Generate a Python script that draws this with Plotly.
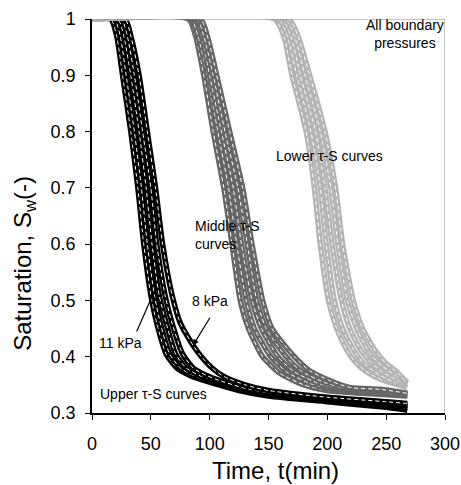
import plotly.graph_objects as go

# ---- data (time in min, saturation S_w) ----
# Upper tau-S curves (black), 11 kPa (left) ... 8 kPa (right)
upper_t = [
    [0, 16, 21, 26, 33, 39, 44, 50, 55, 63, 72, 85, 100, 125, 150, 200, 250, 268],
    [0, 19, 24, 29, 36, 42, 47, 53, 58, 66, 75, 88, 102, 125, 150, 200, 250, 268],
    [0, 22, 27, 33, 40, 46, 51, 57, 63, 71, 80, 92, 105, 125, 150, 200, 250, 268],
    [0, 25, 30, 36, 43, 50, 55, 62, 68, 77, 86, 97, 108, 128, 150, 200, 250, 268],
    [0, 28, 33, 40, 47, 54, 60, 68, 75, 86, 93, 102, 112, 130, 150, 200, 250, 268],
]
upper_s = [
    [1, 1, 0.97, 0.9, 0.8, 0.7, 0.6, 0.51, 0.46, 0.405, 0.38, 0.365, 0.355, 0.34, 0.33, 0.32, 0.31, 0.305],
    [1, 1, 0.97, 0.9, 0.8, 0.7, 0.6, 0.51, 0.46, 0.405, 0.38, 0.365, 0.357, 0.342, 0.332, 0.322, 0.313, 0.308],
    [1, 1, 0.97, 0.9, 0.8, 0.7, 0.6, 0.51, 0.46, 0.405, 0.38, 0.366, 0.358, 0.345, 0.335, 0.325, 0.316, 0.312],
    [1, 1, 0.97, 0.9, 0.8, 0.7, 0.6, 0.51, 0.46, 0.405, 0.38, 0.367, 0.358, 0.345, 0.336, 0.326, 0.318, 0.314],
    [1, 1, 0.97, 0.9, 0.8, 0.7, 0.6, 0.51, 0.46, 0.42, 0.40, 0.38, 0.365, 0.35, 0.34, 0.328, 0.32, 0.317],
]

# Middle tau-S curves (dark grey)
middle_t = [
    [0, 82, 88, 95, 103, 112, 119, 126, 133, 145, 160, 180, 200, 230, 268],
    [0, 84, 90, 98, 107, 116, 123, 131, 138, 152, 166, 186, 205, 235, 268],
    [0, 87, 93, 100, 110, 120, 127, 136, 144, 158, 172, 192, 210, 238, 268],
    [0, 89, 95, 103, 113, 124, 132, 140, 148, 165, 178, 198, 215, 242, 268],
    [0, 92, 98, 106, 117, 128, 136, 145, 153, 172, 185, 205, 220, 245, 268],
]
middle_s = [
    [1, 1, 0.97, 0.9, 0.8, 0.7, 0.6, 0.5, 0.45, 0.4, 0.37, 0.35, 0.34, 0.335, 0.33],
    [1, 1, 0.97, 0.9, 0.8, 0.7, 0.6, 0.5, 0.45, 0.4, 0.372, 0.352, 0.342, 0.337, 0.331],
    [1, 1, 0.97, 0.9, 0.8, 0.7, 0.6, 0.5, 0.45, 0.4, 0.373, 0.353, 0.343, 0.339, 0.332],
    [1, 1, 0.97, 0.9, 0.8, 0.7, 0.6, 0.5, 0.45, 0.4, 0.374, 0.354, 0.344, 0.341, 0.334],
    [1, 1, 0.97, 0.9, 0.8, 0.7, 0.6, 0.5, 0.45, 0.4, 0.375, 0.355, 0.345, 0.342, 0.335],
]

# Lower tau-S curves (light grey)
lower_t = [
    [0, 155, 163, 170, 182, 189, 194, 201, 208, 217, 224, 232, 245, 268],
    [0, 158, 166, 174, 186, 194, 199, 206, 213, 223, 230, 239, 251, 268],
    [0, 161, 169, 177, 190, 198, 204, 212, 219, 229, 237, 245, 256, 268],
    [0, 164, 172, 181, 194, 203, 209, 217, 225, 235, 243, 252, 262, 268],
    [0, 167, 175, 185, 198, 207, 213, 222, 230, 241, 249, 258, 266, 268],
]
lower_s = [
    [1, 1, 0.97, 0.9, 0.8, 0.7, 0.6, 0.5, 0.45, 0.41, 0.39, 0.375, 0.36, 0.345],
    [1, 1, 0.97, 0.9, 0.8, 0.7, 0.6, 0.5, 0.45, 0.41, 0.39, 0.375, 0.36, 0.348],
    [1, 1, 0.97, 0.9, 0.8, 0.7, 0.6, 0.5, 0.45, 0.41, 0.39, 0.375, 0.362, 0.351],
    [1, 1, 0.97, 0.9, 0.8, 0.7, 0.6, 0.5, 0.45, 0.41, 0.39, 0.375, 0.362, 0.353],
    [1, 1, 0.97, 0.9, 0.8, 0.7, 0.6, 0.5, 0.45, 0.41, 0.39, 0.375, 0.358, 0.355],
]

groups = [
    (upper_t, upper_s, "#000000"),
    (middle_t, middle_s, "#666666"),
    (lower_t, lower_s, "#b4b4b4"),
]

x_ticks = [0, 50, 100, 150, 200, 250, 300]
y_ticks = [0.3, 0.4, 0.5, 0.6, 0.7, 0.8, 0.9, 1.0]
y_labels = ["0.3", "0.4", "0.5", "0.6", "0.7", "0.8", "0.9", "1"]

FONT = "Liberation Sans, Arial, sans-serif"

fig = go.Figure()
for ts, ss, col in groups:
    for t, s in zip(ts, ss):
        fig.add_trace(go.Scatter(x=t, y=s, mode="lines",
                                 line=dict(color=col, width=5.5, shape="spline", smoothing=0.6),
                                 hoverinfo="skip", showlegend=False))
        fig.add_trace(go.Scatter(x=t, y=s, mode="lines",
                                 line=dict(color="white", width=1, dash="4px,3px",
                                           shape="spline", smoothing=0.6),
                                 hoverinfo="skip", showlegend=False))

# plot frame (top/right in grey)
fig.add_shape(type="line", xref="x", yref="y", x0=0, x1=300, y0=1, y1=1,
              line=dict(color="#888888", width=1))
fig.add_shape(type="line", xref="x", yref="y", x0=300, x1=300, y0=0.3, y1=1,
              line=dict(color="#888888", width=1))

ann_font = dict(family=FONT, size=14, color="black")
fig.add_annotation(x=266, y=0.973, text="All boundary<br>pressures", showarrow=False,
                   font=ann_font, align="center")
fig.add_annotation(x=202, y=0.757, text="Lower τ-S curves", showarrow=False, font=ann_font)
fig.add_annotation(x=86, y=0.616, text="Middle τ-S<br>curves", showarrow=False,
                   font=ann_font, align="left", xanchor="left")
fig.add_annotation(x=100, y=0.499, text="8 kPa", showarrow=False, font=ann_font)
fig.add_annotation(x=24.6, y=0.424, text="11 kPa", showarrow=False, font=ann_font)
fig.add_annotation(x=52, y=0.333, text="Upper τ-S curves", showarrow=False, font=ann_font)
# arrows
fig.add_annotation(x=52.7, y=0.515, ax=37.4, ay=0.442, axref="x", ayref="y",
                   text="", showarrow=True, arrowhead=2, arrowsize=1, arrowwidth=1.2,
                   arrowcolor="black")
fig.add_annotation(x=85.8, y=0.420, ax=101, ay=0.472, axref="x", ayref="y",
                   text="", showarrow=True, arrowhead=2, arrowsize=1, arrowwidth=1.2,
                   arrowcolor="black")

# axis titles (placed as in the reference, off-centre)
fig.add_annotation(xref="paper", yref="paper", x=0.521, y=-0.145,
                   xanchor="center", yanchor="middle",
                   text="Time, t(min)", showarrow=False,
                   font=dict(family=FONT, size=24, color="black"))
fig.add_annotation(xref="paper", yref="paper", x=-0.19, y=0.381, textangle=-90,
                   xanchor="center", yanchor="middle",
                   text="Saturation, S<sub>w</sub>(-)", showarrow=False,
                   font=dict(family=FONT, size=24, color="black"))

fig.update_layout(
    width=461, height=485,
    margin=dict(l=92, r=16, t=19, b=72),
    paper_bgcolor="white", plot_bgcolor="white",
    font=dict(family=FONT, color="black"),
    xaxis=dict(range=[0, 300], tickvals=x_ticks, ticks="outside", ticklen=5,
               tickcolor="black", showline=True, linecolor="black", linewidth=1.5,
               showgrid=False, zeroline=False, tickfont=dict(size=18),
               ticklabelstandoff=9, automargin=False),
    yaxis=dict(range=[0.3, 1.0], tickvals=y_ticks, ticktext=y_labels, ticks="outside",
               ticklen=5, tickcolor="black", showline=True, linecolor="black",
               linewidth=1.5, showgrid=False, zeroline=False, tickfont=dict(size=18),
               ticklabelstandoff=6, automargin=False),
)

fig.write_html("out.html")
